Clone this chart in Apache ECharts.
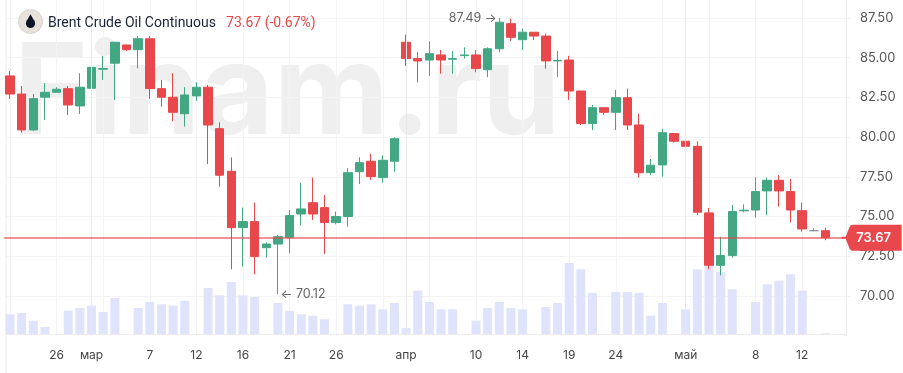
<!DOCTYPE html>
<html>
<head>
<meta charset="utf-8">
<style>
  html, body { margin: 0; padding: 0; background: #fff; }
  #chart { width: 903px; height: 373px; }
</style>
<script src="https://cdn.jsdelivr.net/npm/echarts@6/dist/echarts.min.js"></script>
</head>
<body>
<div id="chart"></div>
<script>
var tickLabels = ['', '', '', '', '26', '', '', 'мар', '', '', '', '', '7', '', '', '', '12', '', '', '', '16', '', '', '', '21', '', '', '', '26', '', '', '', '', '', 'апр', '', '', '', '', '', '10', '', '', '', '14', '', '', '', '19', '', '', '', '24', '', '', '', '', '', 'май', '', '', '', '', '', '8', '', '', '', '12', '', '', ''];
var gridTicks = [0, 4, 7, 8, 12, 16, 20, 24, 28, 32, 34, 36, 40, 44, 48, 52, 56, 58, 60, 64, 68];
var monthTicks = [7, 34, 58];

var opens = [83.85, 82.71, 80.45, 82.51, 82.82, 83.05, 81.96, 83.07, 84.27, 84.65, 85.80, 85.50, 86.19, 83.05, 82.51, 81.47, 82.59, 83.14, 80.53, 77.85, 74.30, 74.68, 73.04, 73.27, 73.67, 75.16, 75.87, 75.56, 74.62, 75.00, 77.82, 78.48, 77.45, 78.48, 85.97, 84.94, 84.85, 85.17, 84.90, 85.13, 85.17, 84.24, 85.56, 87.14, 86.13, 86.60, 86.36, 84.79, 84.85, 82.90, 80.85, 81.85, 81.56, 82.48, 80.76, 77.76, 78.25, 80.22, 79.74, 79.42, 75.23, 71.93, 72.54, 75.36, 75.41, 76.61, 77.28, 76.57, 75.37, 74.11, 74.11];
var closes = [82.71, 80.45, 82.42, 82.82, 83.01, 82.02, 83.14, 84.39, 84.31, 85.97, 85.50, 86.19, 83.05, 82.51, 81.56, 82.65, 83.14, 80.76, 77.60, 74.30, 74.68, 72.48, 73.27, 73.73, 75.06, 75.48, 75.16, 74.62, 75.00, 77.76, 78.39, 77.51, 78.54, 79.90, 84.94, 84.79, 85.25, 84.85, 84.94, 85.17, 84.31, 85.56, 87.23, 86.28, 86.60, 86.36, 84.79, 84.83, 82.90, 80.85, 81.85, 81.56, 82.48, 80.76, 77.76, 78.23, 80.28, 79.74, 79.42, 75.27, 71.93, 72.54, 75.31, 75.40, 76.57, 77.28, 76.61, 75.41, 74.22, 74.11, 73.67];
var lows = [82.40, 80.28, 80.39, 81.08, 82.82, 81.39, 81.46, 82.59, 83.60, 82.34, 85.42, 84.33, 82.40, 81.91, 80.99, 80.66, 82.27, 78.31, 76.88, 71.68, 71.85, 71.37, 72.41, 70.12, 72.69, 74.43, 74.79, 72.65, 74.51, 74.36, 77.05, 77.30, 77.13, 77.82, 84.48, 83.45, 83.85, 83.99, 83.99, 84.94, 84.08, 83.77, 85.34, 86.05, 85.48, 86.11, 84.31, 83.77, 82.34, 80.76, 80.45, 81.39, 80.45, 80.45, 77.45, 77.60, 77.51, 79.65, 78.08, 75.10, 71.68, 71.30, 72.41, 75.27, 74.93, 75.08, 75.62, 74.62, 74.05, 74.07, 73.51];
var highs = [84.16, 83.22, 82.71, 83.39, 83.14, 83.22, 84.02, 84.48, 85.11, 85.97, 85.80, 86.36, 86.36, 83.60, 84.02, 83.14, 83.45, 83.28, 80.93, 78.73, 75.56, 75.87, 73.38, 73.84, 75.41, 77.13, 77.45, 76.36, 75.31, 78.04, 78.73, 78.94, 78.86, 79.99, 86.45, 85.34, 86.03, 85.48, 85.42, 85.65, 85.48, 85.65, 87.49, 87.45, 86.82, 86.60, 86.51, 85.42, 85.11, 82.90, 82.02, 81.85, 82.97, 83.05, 81.47, 78.62, 80.53, 80.22, 79.82, 79.74, 75.54, 73.73, 75.73, 75.77, 77.47, 77.45, 77.60, 77.37, 75.87, 74.26, 74.30];
var volumes = [19.7, 21, 13.3, 7, 0, 23.3, 26, 28.3, 22, 36, 0, 26, 32, 29.7, 28.3, 33.3, 0, 46, 38.7, 52, 38.7, 37, 0, 31, 23.3, 19.7, 18.3, 14.7, 0, 29.7, 28.3, 29.7, 24.7, 31, 6, 43.3, 32, 24.7, 24.7, 0, 13.3, 26, 32, 26, 24.7, 0, 27, 31, 71, 64.7, 41, 0, 42, 42, 41, 18.3, 31, 0, 24.7, 64.7, 68, 62, 44.7, 0, 32, 49.7, 53.3, 59.7, 43.3, 0, 0.7];

var lastPrice = 73.67;
var changeText = '(-0.67%)';
var maxPoint = 42;
var minPoint = 23;
var flatPoint = 69;
var lastCategory = 71;

var green = '#43a784';
var red = '#e8484b';
var fontName = 'Roboto, sans-serif';
var numFont = 'Inter, Roboto, sans-serif';

var candles = opens.map(function (o, i) {
  var row = [o, closes[i], lows[i], highs[i]];
  if (i === flatPoint) {
    return { value: row, itemStyle: { color: '#8a8f98', borderColor: '#8a8f98' } };
  }
  return row;
});

var chart = echarts.init(document.getElementById('chart'), null, { renderer: 'canvas' });

chart.setOption({
  animation: false,
  backgroundColor: '#fff',
  title: {
    left: 48,
    top: 14,
    padding: 0,
    text: '{name|Brent Crude Oil Continuous}  {chg|' + lastPrice.toFixed(2) + ' ' + changeText + '}',
    textStyle: {
      rich: {
        name: { fontFamily: fontName, fontSize: 14, fontWeight: 'normal', color: '#1b2436' },
        chg: { fontFamily: fontName, fontSize: 14, fontWeight: 'normal', color: red }
      }
    }
  },
  graphic: [
    { type: 'text', z: -10, left: 14, top: 33, style: { text: 'Finam.ru', fontFamily: 'Inter', fontWeight: 700, fontSize: 126, fill: '#efefef' } },
    { type: 'rect', z: 1, shape: { x: 0, y: 0, width: 6, height: 340 }, style: { fill: '#fff' } },
    { type: 'line', z: 1, shape: { x1: 6, y1: 0, x2: 6, y2: 373 }, style: { stroke: '#ececec', lineWidth: 1 } },
    { type: 'line', z: 1, shape: { x1: 843, y1: 334.5, x2: 846, y2: 334.5 }, style: { stroke: '#ececec', lineWidth: 1 } },
    { type: 'circle', z: 10, shape: { cx: 30.5, cy: 21.5, r: 12 }, style: { fill: '#e7e3da', stroke: '#d8d5cd', lineWidth: 1 } },
    { type: 'circle', z: 11, shape: { cx: 30.5, cy: 23.5, r: 4.6 }, style: { fill: '#0d1626' } },
    { type: 'polygon', z: 11, shape: { points: [[30.5, 14.3], [26.4, 21.5], [34.6, 21.5]] }, style: { fill: '#0d1626' } }
  ],
  grid: [
    { left: 4.17, width: 838.8, top: -21.8, height: 357.5, outerBoundsMode: 'none' },
    { left: 4.17, width: 838.8, top: 254, height: 80, outerBoundsMode: 'none' }
  ],
  xAxis: [
    {
      type: 'category',
      gridIndex: 0,
      data: tickLabels,
      axisLine: { show: false },
      axisTick: { show: false },
      axisLabel: { show: false },
      splitLine: {
        show: true,
        alignWithLabel: true,
        interval: function (i) { return gridTicks.indexOf(i) >= 0; },
        lineStyle: { color: '#f3f3f3', width: 1 }
      }
    },
    {
      type: 'category',
      gridIndex: 1,
      data: tickLabels,
      axisLine: { lineStyle: { color: '#ececec' } },
      axisTick: {
        alignWithLabel: true,
        length: 5,
        interval: function (i) { return gridTicks.indexOf(i) >= 0; },
        lineStyle: { color: '#ececec' }
      },
      axisLabel: { interval: 0, margin: 15, color: '#444', fontFamily: numFont, fontSize: 12 }
    }
  ],
  yAxis: [
    {
      type: 'value',
      gridIndex: 0,
      position: 'right',
      offset: 3,
      min: 67.5,
      max: 90,
      interval: 2.5,
      axisLine: { show: true, lineStyle: { color: '#ececec' } },
      axisTick: { show: true, length: 4, lineStyle: { color: '#f0f0f0' } },
      axisLabel: {
        margin: 14,
        color: '#555',
        fontFamily: numFont,
        fontSize: 13,
        showMinLabel: false,
        formatter: function (v) { return v.toFixed(2); }
      },
      splitLine: { show: true, showMinLine: false, lineStyle: { color: '#f4f4f4', width: 1 } }
    },
    {
      type: 'value',
      gridIndex: 1,
      position: 'left',
      min: 0,
      max: 80,
      show: false
    },
    {
      // only fills the small gap between the split lines and the shifted axis
      type: 'value',
      gridIndex: 0,
      position: 'right',
      offset: 3,
      min: 67.5,
      max: 90,
      interval: 2.5,
      axisLine: { show: false },
      axisLabel: { show: false },
      splitLine: { show: false },
      axisTick: { show: true, inside: true, length: 3, lineStyle: { color: '#f4f4f4' } }
    }
  ],
  series: [
    {
      name: 'Volume',
      type: 'bar',
      xAxisIndex: 1,
      yAxisIndex: 1,
      barWidth: 9,
      data: volumes,
      itemStyle: { color: '#dfe3fc' },
      silent: true
    },
    {
      name: 'Brent',
      type: 'candlestick',
      xAxisIndex: 0,
      yAxisIndex: 0,
      barWidth: 9,
      data: candles,
      itemStyle: { color: green, color0: red, borderColor: green, borderColor0: red, borderWidth: 1 },
      markLine: {
        symbol: 'none',
        silent: true,
        label: { show: false },
        data: monthTicks.map(function (t) {
          return { xAxis: t, lineStyle: { color: '#e9e9e9', width: 1, type: 'solid' } };
        }).concat([
          { yAxis: lastPrice, lineStyle: { color: 'rgba(232,72,75,0.6)', width: 2, type: 'solid' } }
        ])
      },
      markPoint: {
        silent: true,
        data: [
          {
            coord: [lastCategory, lastPrice],
            symbol: 'path://M0 12 L4 12 L8 2 Q9 0 11 0 L60 0 L60 26 L11 26 Q9 26 8 24 L4 14 L0 14 Z',
            symbolSize: [60, 26],
            symbolOffset: [34.5, 0],
            itemStyle: { color: red },
            label: {
              show: true,
              position: 'inside',
              offset: [2, 0],
              formatter: lastPrice.toFixed(2),
              color: '#fff',
              fontFamily: numFont,
              fontWeight: 600,
              fontSize: 13
            }
          },
          {
            coord: [maxPoint, highs[maxPoint]],
            symbol: 'circle',
            symbolSize: 1,
            itemStyle: { color: 'transparent' },
            label: {
              show: true,
              position: 'left',
              distance: 2,
              formatter: highs[maxPoint].toFixed(2) + ' →',
              color: '#666',
              fontFamily: numFont,
              fontSize: 12.5
            }
          },
          {
            coord: [minPoint, lows[minPoint]],
            symbol: 'circle',
            symbolSize: 1,
            itemStyle: { color: 'transparent' },
            label: {
              show: true,
              position: 'right',
              distance: 2,
              formatter: '← ' + lows[minPoint].toFixed(2),
              color: '#666',
              fontFamily: numFont,
              fontSize: 12.5
            }
          }
        ]
      }
    }
  ]
});
</script>
</body>
</html>
